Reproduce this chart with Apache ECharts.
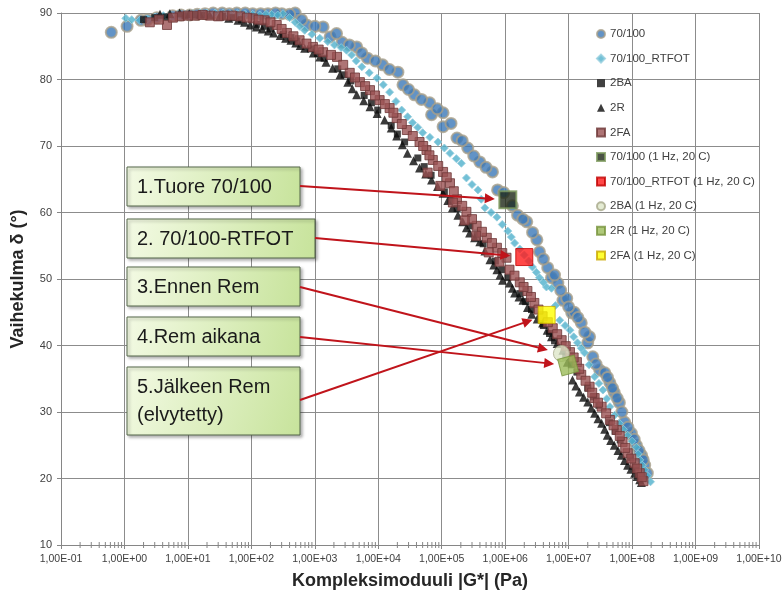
<!DOCTYPE html>
<html><head><meta charset="utf-8">
<script src="https://cdn.jsdelivr.net/npm/echarts@6/dist/echarts.min.js"></script>
<style>html,body{margin:0;padding:0;background:#fff}#c{width:782px;height:600px}</style>
</head><body><div id="c"></div><script>
// ---------- DATA (G* in Pa, phase angle in degrees) ----------
const seriesNames = ['70/100','70/100_RTFOT','2BA','2R','2FA',
  '70/100 (1 Hz, 20 C)','70/100_RTFOT (1 Hz, 20 C)','2BA (1 Hz, 20 C)','2R (1 Hz, 20 C)','2FA (1 Hz, 20 C)'];

const d70100 = [[0.62,87.1],[1.10,88.0],[1.82,88.9],[3.24,89.3],[5.75,89.6],[10.7,89.7],[18.6,89.9],[34.7,90.0],
  [58.9,90.0],[105,89.9],[182,89.9],[302,89.9],[490,90.0],[741,88.2],[1350,87.9],[1740,86.4],[2690,85.6],[4570,84.9],
  [6760,83.2],[11700,82.2],[20400,81.1],[24500,79.2],[37200,77.7],[64600,76.5],[69200,74.7],[105000,75.0],[105000,72.9],
  [174000,71.2],[257000,69.7],[398000,67.6],[631000,66.1],[759000,63.4],[1.3e6,61.0],[1.57e6,59.6],[2.19e6,58.6],
  [3.16e6,55.9],[3.47e6,54.1],[4.68e6,51.7],[5.37e6,50.2],[6.76e6,49.4],[8.13e6,46.8],[9.33e6,47.1],[1.12e7,44.9],
  [1.23e7,45.0],[1.58e7,43.4],[2.00e7,40.4],[2.14e7,41.3],[2.40e7,38.3],[3.09e7,36.3],[3.72e7,35.9],[4.47e7,34.4],
  [5.25e7,32.9],[6.31e7,31.4],[7.59e7,28.5],[9.77e7,26.8],[1.17e8,25.0],[1.41e8,23.5],[1.58e8,22.0],[1.74e8,20.8],
  [2.3,89.0],[7.8,89.7],[14,89.8],[25,90.0],[45,89.9],[80,90.0],[140,89.9],[240,90.0],[400,89.8],[620,89.0],
  [1000,88.0],[2200,86.9],[3500,85.2],[5500,84.0],[9000,82.8],[15000,81.5],[30000,78.5],[48000,77.0],[85000,75.6],
  [140000,73.4],[210000,70.8],[320000,68.5],[500000,66.8],[950000,63.0],[1.9e6,59.0],[2.7e6,57.0],[4.0e6,53.0],
  [6.0e6,50.6],[7.5e6,48.3],[1.0e7,45.8],[1.4e7,44.2],[1.8e7,42.0],[2.7e7,37.2],[4.1e7,35.2],[4.9e7,33.6],
  [5.8e7,32.1],[6.9e7,30.0],[8.6e7,27.7],[1.08e8,25.9],[1.29e8,24.2],[1.5e8,22.8]];

const d70100rt = [[1.05,89.2],[1.74,88.9],[3.02,89.4],[5.25,89.7],[8.9,89.8],[15.5,90.0],[26.9,90.0],[45.7,89.9],
  [79.4,89.8],[135,89.7],[209,89.8],[316,89.9],[490,88.6],[692,87.4],[1200,86.2],[2040,85.2],[3160,84.4],[3800,83.7],
  [5500,81.9],[9550,80.2],[15100,78.1],[23400,75.4],[34700,73.5],[50100,72.0],[87100,70.6],[135000,68.9],[204000,67.4],
  [245000,65.2],[372000,63.4],[479000,60.7],[741000,59.3],[1.10e6,57.2],[1.41e6,55.4],[2.0e6,53.6],[2.69e6,51.8],
  [3.47e6,50.2],[4.47e6,48.8],[5.37e6,48.6],[6.2e6,46.0],[7.24e6,43.8],[1.05e7,42.3],[1.38e7,40.4],[1.78e7,38.9],
  [2.57e7,35.3],[3.47e7,33.3],[4.47e7,30.8],[6.31e7,28.3],[8.51e7,26.5],[1.17e8,24.7],[1.32e8,22.8],[1.58e8,21.3],[1.95e8,19.5],
  [1.3,89.0],[2.3,89.1],[4.1,89.6],[7.0,89.8],[12,89.9],[20,90.0],[36,90.0],[60,89.9],[105,89.8],[170,89.8],
  [260,89.7],[400,89.3],[580,88.0],[900,86.8],[1600,85.7],[2600,84.8],[4500,82.8],[7200,81.0],[12000,79.2],
  [19000,76.7],[29000,74.4],[42000,72.8],[65000,71.3],[110000,69.7],[170000,68.1],[300000,64.2],[420000,62.0],
  [600000,60.0],[900000,58.2],[1.25e6,56.3],[1.7e6,54.5],[2.35e6,52.7],[3.1e6,51.0],[4.0e6,49.5],[8.8e6,43.0],
  [1.2e7,41.3],[1.58e7,39.6],[2.1e7,37.1],[3.0e7,34.3],[4.0e7,32.0],[5.3e7,29.5],[7.3e7,27.4],[1.0e8,25.6],
  [1.25e8,23.7],[1.45e8,22.0],[1.75e8,20.4]];

const d2BA = [[2.0,89.0],[4.5,89.4],[9.0,89.6],[18,89.7],[35,89.5],[70,89.0],[120,88.3],[200,87.6],[320,86.8],
  [520,85.8],[850,84.6],[1400,83.2],[2300,81.6],[3700,79.8],[6000,77.6],[9800,75.4],[16000,73.1],[26000,70.6],
  [42000,68.2],[68000,65.6],[110000,63.1],[175000,60.6],[280000,58.0],[450000,55.3],[700000,52.7],[1.1e6,50.2],
  [1.7e6,47.8],[2.6e6,45.4],[4.0e6,43.0],[6.0e6,40.7],[9.0e6,38.3],[1.35e7,36.0],[2.0e7,33.6],[3.0e7,31.0],
  [4.4e7,28.4],[6.5e7,25.8],[9.5e7,23.1],[1.4e8,20.2],
  [3.0,89.3],[13,89.7],[50,89.3],[160,88.0],[420,86.3],[1100,83.9],[2900,80.7],[7800,76.5],[20000,71.8],
  [53000,66.9],[140000,61.8],[360000,56.6],[880000,51.4],[2.1e6,46.6],[5.0e6,41.8],[1.1e7,37.1],[2.5e7,32.3],
  [5.4e7,27.1],[1.15e8,21.6]];

const d2R = [[3.63,89.8],[7.41,90.0],[15.5,89.8],[31.6,89.5],[61.7,88.9],[95.5,88.2],[148,87.6],[224,87.0],[347,86.2],
  [501,85.5],[692,84.7],[1200,83.4],[1910,81.7],[3310,79.6],[4570,77.7],[7410,75.9],[12600,73.9],[19500,71.5],
  [28800,68.9],[44700,66.7],[69200,64.9],[105000,62.9],[148000,60.7],[214000,58.6],[275000,56.9],[398000,55.6],
  [575000,52.9],[741000,51.4],[912000,49.8],[1.17e6,49.4],[1.41e6,47.9],[1.91e6,46.8],[2.63e6,44.7],[3.89e6,43.4],
  [5.37e6,41.3],[8.13e6,39.3],[9.55e6,37.5],[1.15e7,34.8],[1.48e7,33.0],[2.00e7,31.5],[2.57e7,29.8],[3.31e7,28.3],
  [4.07e7,26.5],[5.25e7,25.0],[6.76e7,23.5],[8.51e7,22.0],[1.10e8,20.8],[1.32e8,19.8],
  [5.2,89.9],[10.5,89.9],[22,89.7],[44,89.2],[78,88.6],[120,87.9],[185,87.3],[285,86.6],[420,85.9],[590,85.1],
  [950,84.0],[1500,82.6],[2500,80.7],[3900,78.6],[5900,76.8],[9600,74.9],[16000,72.7],[24000,70.2],[36000,67.8],
  [56000,65.8],[86000,63.9],[125000,61.8],[180000,59.6],[245000,57.7],[330000,56.2],[480000,54.2],[660000,52.1],
  [830000,50.6],[1.3e6,48.6],[1.65e6,47.3],[2.25e6,45.7],[3.2e6,44.0],[4.6e6,42.3],[6.6e6,40.3],[1.3e7,33.9],
  [1.72e7,32.2],[2.27e7,30.6],[2.9e7,29.0],[3.7e7,27.4],[4.6e7,25.7],[6.0e7,24.2],[7.6e7,22.7],[9.6e7,21.4],
  [1.2e8,20.3],[1.4e8,19.4]];

const d2FA = [[2.51,88.6],[4.68,88.2],[7.41,89.5],[12.9,89.6],[22.4,89.6],[38.0,89.6],[66.1,89.5],[105,89.2],[162,88.9],
  [251,88.2],[363,87.0],[575,85.9],[933,84.9],[1350,84.1],[2240,83.4],[3550,81.0],[5130,79.6],[7410,78.4],[10500,76.9],
  [15100,75.7],[19500,74.2],[28200,72.4],[44700,70.6],[57500,69.4],[72400,67.9],[105000,66.1],[135000,64.4],
  [174000,62.0],[245000,60.1],[355000,58.0],[513000,56.2],[741000,54.7],[1.05e6,53.2],[813000,52.6],[1.17e6,51.4],
  [1.70e6,49.5],[2.24e6,48.2],[2.88e6,46.4],[3.89e6,44.4],[5.62e6,42.6],[7.76e6,40.8],[1.05e7,39.0],[1.35e7,37.5],
  [1.58e7,35.6],[2.14e7,33.8],[2.57e7,32.1],[3.31e7,30.8],[4.47e7,28.8],[5.75e7,27.3],[7.08e7,25.5],[8.51e7,23.8],
  [1.10e8,22.3],[1.32e8,20.8],[1.51e8,19.6],
  [3.5,89.0],[5.8,89.3],[10,89.6],[17,89.7],[30,89.5],[50,89.6],[85,89.3],[130,89.0],[200,88.6],[300,87.6],
  [460,86.5],[740,85.4],[1150,84.5],[1800,83.7],[2800,82.2],[4300,80.3],[6200,79.0],[8900,77.6],[12700,76.3],
  [17300,75.0],[23500,73.3],[35000,71.5],[51000,70.0],[64000,68.6],[88000,67.0],[120000,65.3],[155000,63.2],
  [210000,61.0],[300000,59.0],[430000,57.1],[620000,55.4],[900000,53.9],[1.4e6,50.5],[1.95e6,48.8],[2.55e6,47.3],
  [3.35e6,45.4],[4.7e6,43.5],[6.6e6,41.7],[9.0e6,39.9],[1.2e7,38.2],[1.47e7,36.5],[1.85e7,34.7],[2.35e7,32.9],
  [2.9e7,31.4],[3.9e7,29.8],[5.1e7,28.0],[6.4e7,26.4],[7.8e7,24.6],[9.7e7,23.0],[1.2e8,21.5],[1.42e8,20.2],
  [60000,66.0],[95000,64.0],[150000,61.5],[230000,58.8],[350000,56.5],[550000,54.0]];

const h70100 = [[1.1e6, 61.9]];
const h70100rt = [[2.0e6, 53.3]];
const h2BA = [[7.7e6, 38.8]];
const h2R = [[9.8e6, 37.0]];
const h2FA = [[4.5e6, 44.6]];

const yTicks = [10,20,30,40,50,60,70,80,90];
const annTexts = [['1.Tuore 70/100'],['2. 70/100-RTFOT'],['3.Ennen Rem'],['4.Rem aikana'],['5.Jälkeen Rem','(elvytetty)']];
// ---------- END DATA ----------

const FONT = '"Liberation Sans", Arial, sans-serif';
const chart = echarts.init(document.getElementById('c'), null, {renderer:'canvas'});
function fmtE(v){ const e = Math.round(Math.log10(v)); const a = Math.abs(e); return '1,00E' + (e<0?'-':'+') + (a<10?'0'+a:''+a); }

const minorTicks = [];
for (let e = -1; e < 10; e++) for (let m = 2; m <= 9; m++) minorTicks.push([m*Math.pow(10,e), yTicks[0]]);

const styles = [
  {symbol:'circle', symbolSize:11, itemStyle:{color:'#3B78B8', borderColor:'#A9A08B', borderWidth:2}},
  {symbol:'diamond', symbolSize:8, itemStyle:{color:'#4FB0CC', borderColor:'#93CDDD', borderWidth:1}},
  {symbol:'rect', symbolSize:7, itemStyle:{color:'#111111'}},
  {symbol:'triangle', symbolSize:9, itemStyle:{color:'#0A0A0A'}},
  {symbol:'rect', symbolSize:9, itemStyle:{color:'#9A5152', borderColor:'#6E3737', borderWidth:1}},
  {symbol:'rect', symbolSize:17, itemStyle:{color:'#1E2818', borderColor:'#7E9B5E', borderWidth:2}},
  {symbol:'rect', symbolSize:17, itemStyle:{color:'#FF1A1A', borderColor:'#C00000', borderWidth:1}},
  {symbol:'circle', symbolSize:16, itemStyle:{color:'#DDE6C8', borderColor:'#A6A88A', borderWidth:1}},
  {symbol:'rect', symbolSize:17, symbolRotate:15, itemStyle:{color:'#9BBB59', borderColor:'#77933C', borderWidth:1}},
  {symbol:'rect', symbolSize:17, itemStyle:{color:'#FFFF00', borderColor:'#C9A800', borderWidth:1}}
];
const datas = [d70100, d70100rt, d2BA, d2R, d2FA, h70100, h70100rt, h2BA, h2R, h2FA];

const series = datas.map((d, i) => Object.assign({
  name: seriesNames[i], type:'scatter', data: d, z: 2 + i*0.01, silent:true
}, styles[i]));
series.push({
  type:'custom', name:'_minor', silent:true, data: minorTicks, z: 3,
  renderItem: function(params, api){
    const p = api.coord([api.value(0), api.value(1)]);
    return {type:'line', shape:{x1:p[0], y1:p[1]-3, x2:p[0], y2:p[1]+3}, style:{stroke:'#868686', lineWidth:1}};
  }
});

const option = {
  animation:false,
  backgroundColor:'#ffffff',
  grid:{left:61, right:23, top:13, bottom:55, containLabel:false, outerBoundsMode:'none'},
  legend:{
    data: seriesNames, orient:'vertical', left:591, top:23, itemWidth:8, itemHeight:8, itemGap:12.6,
    textStyle:{fontSize:11.5, lineHeight:12, color:'#404040', fontFamily:FONT}
  },
  xAxis:{
    type:'log', logBase:10, min:0.1, max:1e10, interval:1, splitNumber:11,
    name:'Kompleksimoduuli |G*| (Pa)', nameLocation:'middle', nameGap:27,
    nameTextStyle:{fontSize:18, fontWeight:'bold', color:'#262626', fontFamily:FONT},
    axisLine:{show:true, onZero:false, lineStyle:{color:'#868686'}},
    axisTick:{show:true, length:4, lineStyle:{color:'#868686'}},
    splitLine:{show:true, lineStyle:{color:'#8C8C8C', width:1}},
    axisLabel:{formatter:fmtE, fontSize:10.5, color:'#404040', margin:9, fontFamily:FONT}
  },
  yAxis:{
    type:'value', min:10, max:90, interval:10,
    name:'Vaihekulma δ (°)', nameLocation:'middle', nameGap:34, nameRotate:90,
    nameTextStyle:{fontSize:18, fontWeight:'bold', color:'#262626', fontFamily:FONT},
    axisLine:{show:true, lineStyle:{color:'#868686'}},
    axisTick:{show:true, length:4, lineStyle:{color:'#868686'}},
    splitLine:{show:true, lineStyle:{color:'#8C8C8C', width:1}},
    axisLabel:{fontSize:11, color:'#404040', margin:9, fontFamily:FONT}
  },
  series: series
};
chart.setOption(option);

// ---------- annotation boxes and arrows ----------
const boxes = [
  {x:127, y:167, w:173, h:39, ay:186, ax:300, off:13},
  {x:127, y:219, w:188, h:39, ay:238, ax:315, off:14},
  {x:127, y:267, w:173, h:39, ay:287, ax:300, off:14},
  {x:127, y:317, w:173, h:39, ay:337, ax:300, off:14},
  {x:127, y:367, w:173, h:68, ay:400, ax:300, off:15}
];
const targets = [h70100[0], h70100rt[0], h2BA[0], h2R[0], h2FA[0]];
const graphics = [];
boxes.forEach((b, i) => {
  graphics.push({
    type:'rect', z:100, shape:{x:b.x, y:b.y, width:b.w, height:b.h},
    style:{
      fill: new echarts.graphic.LinearGradient(0,0,1,1,[{offset:0,color:'#F3FAE4'},{offset:1,color:'#C7E39B'}]),
      stroke:'#55664A', lineWidth:1, shadowBlur:3, shadowOffsetX:2, shadowOffsetY:2, shadowColor:'rgba(0,0,0,0.3)'
    }
  });
  const lines = annTexts[i];
  lines.forEach((t, k) => {
    const cy = lines.length === 1 ? b.y + b.h/2 + 1 : b.y + 20 + k*28;
    graphics.push({type:'text', z:101, style:{text:t, x:b.x+10, y:cy, font:'20px ' + FONT, fill:'#1A1A1A', verticalAlign:'middle', align:'left'}});
  });
  const p = chart.convertToPixel({gridIndex:0}, targets[i]);
  const dx = p[0]-b.ax, dy = p[1]-b.ay, L = Math.sqrt(dx*dx+dy*dy);
  const ux = dx/L, uy = dy/L;
  const ex = p[0]-ux*b.off, ey = p[1]-uy*b.off;
  const bx = ex-ux*10, by = ey-uy*10;
  graphics.push({type:'line', z:102, shape:{x1:b.ax, y1:b.ay, x2:bx+ux*2, y2:by+uy*2}, style:{stroke:'#C0141B', lineWidth:2}});
  graphics.push({type:'polygon', z:102, shape:{points:[[ex,ey],[bx-uy*5,by+ux*5],[bx+uy*5,by-ux*5]]}, style:{fill:'#C0141B'}});
});
chart.setOption({graphic: graphics});
</script></body></html>
